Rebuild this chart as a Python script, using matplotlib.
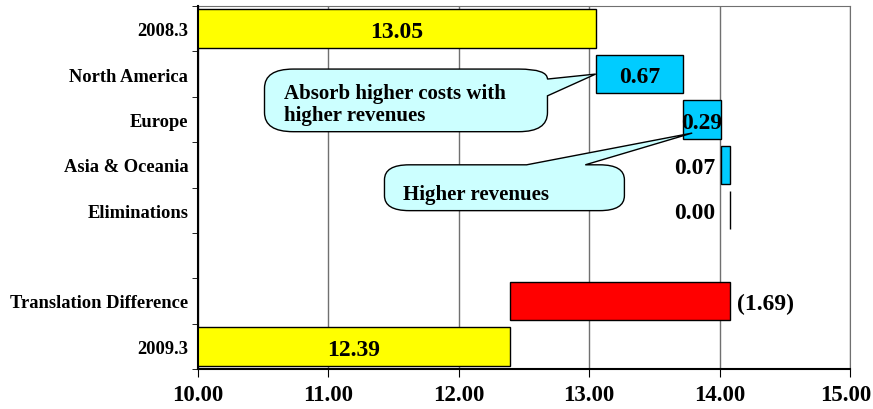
import matplotlib.pyplot as plt
from matplotlib.path import Path
from matplotlib.patches import PathPatch
import numpy as np

plt.rcParams['font.family'] = ['Liberation Serif', 'DejaVu Serif']
plt.rcParams['font.weight'] = 'bold'

# data
categories = ["2008.3", "North America", "Europe", "Asia & Oceania",
              "Eliminations", "", "Translation Difference", "2009.3"]
start_value = 13.05
region_changes = [0.67, 0.29, 0.07, 0.00]
translation_diff = -1.69
end_value = 12.39
xticks = [10, 11, 12, 13, 14, 15]

yellow = "#FFFF00"
cyan = "#00CCFF"
red = "#FF0000"
note_fill = "#CCFFFF"

fig = plt.figure(figsize=(8.73, 4.10), dpi=100)
ax = fig.add_axes([198/873, 40/410, 652/873, 363/410])

ypos = np.arange(len(categories))
h = 0.85

# waterfall bars
ax.barh(ypos[0], start_value, height=h, color=yellow, edgecolor="black", lw=1, zorder=2)
lefts = start_value + np.concatenate([[0], np.cumsum(region_changes)[:-1]])
ax.barh(ypos[1:5], region_changes, left=lefts, height=h, color=cyan,
        edgecolor="black", lw=1, zorder=2)
top_total = start_value + sum(region_changes)
ax.barh(ypos[6], translation_diff, left=top_total, height=h, color=red,
        edgecolor="black", lw=1, zorder=2)
ax.barh(ypos[7], end_value, height=h, color=yellow, edgecolor="black", lw=1, zorder=2)

ax.set_xlim(10, 15)
ax.set_ylim(len(categories) - 0.5, -0.5)

# labels
fs = 17
dy = -2


def label(x, y, s, dx=0, ha="center"):
    ax.annotate(s, (x, y), xytext=(dx, dy), textcoords="offset points",
                ha=ha, va="center", fontsize=fs, zorder=6)


label((10 + start_value) / 2, ypos[0], f"{start_value:.2f}")
label((10 + end_value) / 2, ypos[7], f"{end_value:.2f}")
for i, (l, v) in enumerate(zip(lefts, region_changes)):
    if v >= 0.2:
        label(l + v / 2, ypos[i + 1], f"{v:.2f}")
    else:
        label(lefts[2], ypos[i + 1], f"{v:.2f}", dx=-4, ha="right")
label(top_total, ypos[6], f"({abs(translation_diff):.2f})", dx=5, ha="left")


def callout(x0, x1, y0, y1, tip, top_base=None, right_base=None, rx=0.22, ry=0.42):
    v = [(x0 + rx, y0)]
    c = [Path.MOVETO]
    if top_base:
        v += [(top_base[0], y0), tip, (top_base[1], y0)]
        c += [Path.LINETO] * 3
    if right_base:
        v += [(x1 - rx, y0), (x1, y0), (x1, right_base[0]), tip, (x1, right_base[1])]
        c += [Path.LINETO, Path.CURVE3, Path.CURVE3, Path.LINETO, Path.LINETO]
    else:
        v += [(x1 - rx, y0), (x1, y0), (x1, y0 + ry)]
        c += [Path.LINETO, Path.CURVE3, Path.CURVE3]
    v += [(x1, y1 - ry), (x1, y1), (x1 - rx, y1),
          (x0 + rx, y1), (x0, y1), (x0, y1 - ry),
          (x0, y0 + ry), (x0, y0), (x0 + rx, y0)]
    c += [Path.LINETO, Path.CURVE3, Path.CURVE3,
          Path.LINETO, Path.CURVE3, Path.CURVE3,
          Path.LINETO, Path.CURVE3, Path.CURVE3]
    ax.add_patch(PathPatch(Path(v, c), fc=note_fill, ec="black", lw=1, zorder=4))


callout(10.51, 12.68, 0.89, 2.27, (start_value, ypos[1]), right_base=(1.11, 1.48))
ax.text(10.66, 1.66, "Absorb higher costs with\nhigher revenues", ha="left", va="center",
        fontsize=15, linespacing=1.1, zorder=5)
callout(11.43, 13.27, 3.0, 4.01, (lefts[1] + 0.07, ypos[2] + 0.3), top_base=(12.52, 12.97),
        rx=0.19, ry=0.33)
ax.text(11.57, 3.65, "Higher revenues", ha="left", va="center", fontsize=15, zorder=5)

# axes styling
ax.set_xticks(xticks)
ax.set_xticklabels([f"{t:.2f}" for t in xticks[:-1]] + [""], fontsize=16.5)
# last tick label sits against the figure edge, nudge it left a little
ax.annotate(f"{xticks[-1]:.2f}", (xticks[-1], 0), xycoords=("data", "axes fraction"),
            xytext=(-3, -11), textcoords="offset points", ha="center", va="top",
            fontsize=16.5, annotation_clip=False)
ax.set_yticks(ypos)
ax.set_yticklabels(categories, fontsize=13.3)
ax.set_yticks(np.arange(-0.5, len(categories)), minor=True)
ax.tick_params(axis="y", which="major", length=0, pad=7)
ax.tick_params(axis="y", which="minor", length=4, direction="out")
ax.tick_params(axis="x", length=6, direction="out", pad=5)
ax.grid(axis="x", color="#707070", lw=1, zorder=0)
ax.set_axisbelow(True)
for s in ["top", "right"]:
    ax.spines[s].set_color("#707070")
for s in ["left", "bottom"]:
    ax.spines[s].set_linewidth(1.5)
    ax.spines[s].set_zorder(5)

fig.savefig("out.png", dpi=100)
